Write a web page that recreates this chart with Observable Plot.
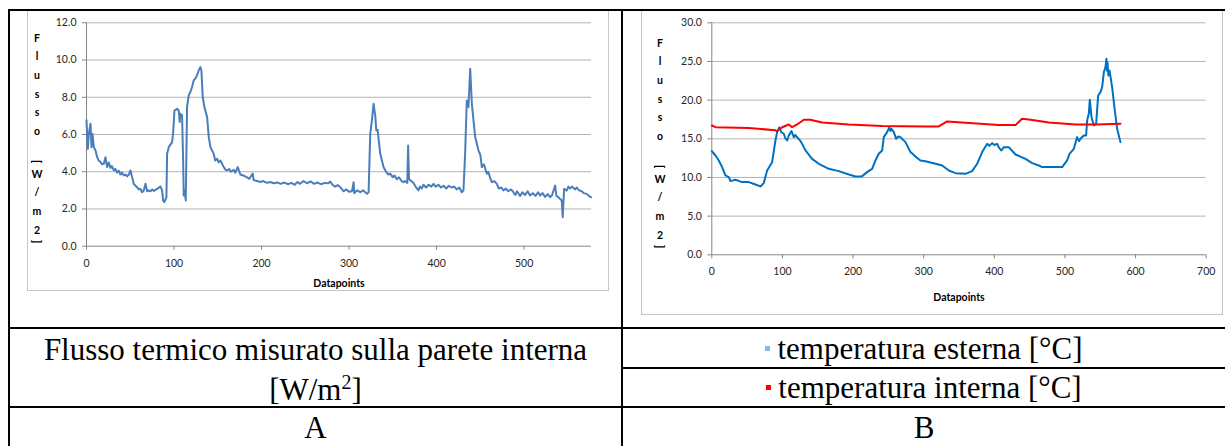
<!DOCTYPE html>
<html><head><meta charset="utf-8">
<script src="https://cdn.jsdelivr.net/npm/d3@7"></script>
<script src="https://cdn.jsdelivr.net/npm/@observablehq/plot@0.6"></script>
<style>
html,body{margin:0;padding:0;background:#fff;}
#root{position:relative;width:1225px;height:446px;overflow:hidden;background:#fff;}
.ln{position:absolute;background:#000;z-index:5;}
.box{position:absolute;border:1px solid #c6c6c6;box-sizing:border-box;}
.svgwrap{position:absolute;}
.stack{position:absolute;display:flex;flex-direction:column;align-items:center;font:bold 10.5px Lato,"Open Sans",sans-serif;color:#000;width:14px;}
.stack span{display:block;height:18.7px;line-height:18.7px;text-align:center;}
.stack span.br{height:5.3px;line-height:5.3px;transform:rotate(90deg);}
.cell{position:absolute;font-family:"Liberation Serif","Times New Roman",serif;color:#000;text-align:center;white-space:nowrap;}
.mk{display:inline-block;width:5px;height:5px;margin-right:7px;vertical-align:middle;position:relative;top:-3px;}
</style></head>
<body><div id="root"></div>
<script>
// ---------- data ----------
const fluxIndex = [0,1.5,2.7,4.6,5.7,6.8,8.4,10.3,12.2,14,16,18,19.8,21.7,23.6,25.5,27.4,29,31.2,33,35,37,38.8,40.5,42.6,44.5,46.4,48.5,50.2,52.1,54,56,57.8,59.7,61.6,63.5,65.4,67.4,69.3,71,73.1,75,77,80.7,84.5,86.4,87.5,89,91.3,92.1,94,97.8,98.9,100.5,103.5,105.4,106.5,107.3,109.2,110.4,111.1,112.3,113.4,114.9,116.8,118.7,120.6,122.5,124.4,126.3,128.2,130.1,131.3,132.8,134.7,137.8,139.7,141.6,145.4,147,149.2,151,153,156.8,159,160.6,163,165,168.2,170,172.8,175.8,179,183.4,186,189.9,191,195,198.6,202,206.2,210,214,218,222,226,230,234,238,241,244,248,252,256,260,264,268,272,276,278.5,281,284,287,290,293.8,297,300,303.3,305.2,306,309,312.8,316,320.4,322.3,324.2,326.1,328,329.9,331.1,332.6,335.6,339.4,342.4,345,347,350,352,354.6,357,360,362.2,364,366.5,367.5,368.5,371,373.6,376,379.3,381,383,385,388,391,394,396.5,399,402,405,408,411,414,417,420,423,426,428.8,430.7,432.6,434.5,436.4,438.4,440.3,444.1,447.9,450,451.7,454,457.4,459,461,463.1,466,468.8,471,474,476.4,479,482,485,487.8,490,492,495.4,498,501,504,506.8,510,513,516,518.3,521,524,527,529.7,532,535.4,537,539.2,543,544.1,545.7,548.7,550.5,552.5,555,558,560.2,563,565.9,568,571.5,574,576.5];
const fluxValue = [6.76,5.23,6.04,6.58,5.32,6.04,5.32,5.14,4.78,4.6,4.52,4.4,4.43,4.78,4.25,4.5,4.2,4.3,4.07,4.15,3.95,4.05,3.85,3.95,3.8,3.85,3.75,3.85,4.07,3.71,3.35,3.25,3.17,3.05,3.08,2.9,2.99,3.35,2.95,3.0,2.95,3.05,2.97,3.08,3.21,2.99,2.46,2.37,2.63,4.96,5.32,5.59,6.04,7.29,7.38,7.29,6.67,7.11,7.03,4.61,2.72,2.99,2.46,7.47,8.1,8.28,8.55,8.91,9.0,9.18,9.44,9.62,9.44,8.01,7.47,6.94,5.86,5.32,4.96,4.6,4.7,4.5,4.6,4.25,4.1,4.07,4.15,4.0,4.1,3.95,4.25,3.85,3.8,3.7,3.62,3.9,3.55,3.5,3.45,3.5,3.4,3.45,3.38,3.42,3.35,3.42,3.33,3.4,3.3,3.45,3.35,3.5,3.38,3.48,3.35,3.42,3.33,3.4,3.38,3.47,3.3,3.2,3.28,3.17,2.95,3.05,2.92,2.95,3.44,2.85,3.0,2.9,3.0,2.81,2.9,6.04,6.76,7.65,7.03,6.22,6.25,4.96,4.25,3.98,3.85,3.9,3.7,3.8,3.6,3.7,3.5,3.44,3.5,3.4,5.41,3.6,3.5,3.4,3.2,3.0,3.2,3.1,3.3,3.15,3.3,3.2,3.35,3.2,3.3,3.15,3.25,3.1,3.25,3.15,3.2,3.05,3.15,2.9,2.99,4.96,7.83,7.47,9.53,7.65,5.86,5.14,4.9,4.25,4.4,3.89,4.0,3.7,3.44,3.5,3.35,3.1,3.15,2.99,3.1,2.95,3.05,2.9,2.75,2.95,2.7,2.9,2.75,2.95,2.72,2.85,2.7,2.9,2.72,2.85,2.65,2.8,2.63,2.75,3.26,2.7,2.63,2.46,1.56,3.08,2.99,3.2,3.1,3.2,3.05,3.15,3.0,2.95,2.85,2.81,2.7,2.63];

const extIndex = [0,5.2,9.9,14.6,19.3,24.1,26.4,33.5,42.9,52.4,61.8,68.9,73.6,78.3,85.4,90.1,92.5,95.8,98.2,101.9,104,106.7,109,112.8,116.1,118,120.8,124,127.9,132.6,142,151.5,165.6,179.8,194,203.4,212.8,219.9,227,231.7,236.4,241.2,243.5,248.2,251.5,253,254.4,257.7,261,264,267.1,274.2,281.3,288.3,295.4,302.5,316.7,326.2,335.6,345,359.2,368.6,375.7,382.8,389.9,393,397,400,404,407,410.1,413.5,420.5,430,444.1,453.6,463,467.8,477.2,496.1,503.1,506.4,512.6,517.3,520,522,526.7,530,531.4,533.8,535.2,537.6,540.9,544.2,547,550.3,552.7,555.1,557.4,558.8,559.6,560.2,561.5,563.1,566.8,570.6,573.9,578.6];
const extValue = [13.4,12.84,12.2,11.34,10.26,10.04,9.53,9.7,9.4,9.4,9.09,8.84,9.27,10.9,11.98,14.78,15.86,16.5,15.86,15.65,15.1,14.78,15.43,16.0,15.2,15.5,15.2,14.9,14.35,13.5,12.4,11.77,11.12,10.82,10.39,10.13,10.17,10.69,11.12,12.2,13.06,13.49,15.22,15.86,16.5,16.0,16.3,15.86,15.0,15.3,15.22,14.57,13.28,12.7,12.2,12.1,11.77,11.55,10.9,10.56,10.47,10.82,11.77,13.28,14.35,14.1,14.44,14.2,14.35,13.8,13.49,13.92,13.92,12.97,12.41,11.85,11.55,11.34,11.34,11.34,12.2,13.06,13.7,15.22,14.7,15.0,15.43,15.43,17.37,18.23,20.04,17.8,16.72,16.94,20.6,21.03,21.68,23.62,24.27,25.34,23.8,24.9,23.19,23.84,21.68,18.66,16.29,14.57];

const intIndex = [0,5.2,52.4,90.1,92.5,99.6,109,113.7,120.8,130.3,139.7,156.2,194,241.2,302.5,321.4,333.2,359.2,406.4,430,439.4,448.9,477.2,515,543.2,578.6];
const intValue = [16.72,16.5,16.4,16.1,16.0,16.5,16.85,16.5,16.85,17.46,17.46,17.1,16.85,16.64,16.6,16.6,17.24,17.07,16.77,16.77,17.59,17.5,17.1,16.85,16.85,16.94];

const xTicksA = [0,100,200,300,400,500];
const yTicksA = [0,2,4,6,8,10,12];
const xTicksB = [0,100,200,300,400,500,600,700];
const yTicksB = [0,5,10,15,20,25,30];
const axisTitleChars = ["F","l","u","s","s","o"," ","[","W","/","m","2","]"];
const xLabel = "Datapoints";
const captionA = ["Flusso termico misurato sulla parete interna", "[W/m", "2", "]"];
const legendB = [{label:"temperatura esterna [°C]", color:"#8db4e2"}, {label:"temperatura interna [°C]", color:"#ff0000"}];
const letters = ["A","B"];

// ---------- helpers ----------
const root = document.getElementById("root");
function add(cls, css, html){ const d=document.createElement("div"); d.className=cls; Object.assign(d.style, css); if(html!==undefined) d.innerHTML=html; root.appendChild(d); return d; }

const fluxData = fluxIndex.map((x,i)=>({x, y: fluxValue[i]}));
const extData = extIndex.map((x,i)=>({x, y: extValue[i]}));
const intData = intIndex.map((x,i)=>({x, y: intValue[i]}));

const baseStyle = {fontFamily:"Lato, 'Open Sans', sans-serif", fontSize:"10.5px", color:"#262626", background:"transparent", overflow:"visible"};

function chart({width,height,mL,mR,mT,mB,xDomain,xTicks,yDomain,yTicks,lines,labelDy}){
  return Plot.plot({
    width, height, marginLeft:mL, marginRight:mR, marginTop:mT, marginBottom:mB,
    style: baseStyle,
    x:{domain:xDomain}, y:{domain:yDomain},
    marks:[
      Plot.ruleY(yTicks.filter(d=>d>0), {stroke:"#b4b4b4", strokeWidth:1}),
      Plot.axisY(yTicks, {tickSize:4, tickPadding:6, stroke:"#868686", fill:"#262626", tickFormat:d=>d.toFixed(1), label:null}),
      Plot.axisX(xTicks, {tickSize:4, tickPadding:9, stroke:"#868686", fill:"#262626", tickFormat:d=>String(d), label:null}),
      Plot.ruleX([xDomain[0]], {stroke:"#868686"}),
      Plot.ruleY([yDomain[0]], {stroke:"#868686"}),
      ...lines.map(l=>Plot.line(l.data, {x:"x", y:"y", stroke:l.color, strokeWidth:2, strokeLinejoin:"round"})),
      Plot.text([xLabel], {frameAnchor:"bottom", dy:labelDy, lineAnchor:"middle", fontWeight:"bold", fill:"#000", fontSize:10.5})
    ]
  });
}

// chart boxes
add("box", {left:"27px", top:"10px", width:"582px", height:"281px"});
add("box", {left:"641px", top:"10px", width:"582px", height:"305px"});

const A = chart({width:582,height:281,mL:59,mR:18,mT:12.3,mB:45.3,xDomain:[0,577],xTicks:xTicksA,yDomain:[0,12],yTicks:yTicksA,lines:[{data:fluxData,color:"#4a7ebb"}],labelDy:37.5});
const wa = add("svgwrap", {left:"27px", top:"10px"}); wa.appendChild(A);
const B = chart({width:582,height:305,mL:70.3,mR:17.3,mT:12.3,mB:60.7,xDomain:[0,700],xTicks:xTicksB,yDomain:[0,30],yTicks:yTicksB,lines:[{data:extData,color:"#0070c0"},{data:intData,color:"#ff0000"}],labelDy:42.7});
const wb = add("svgwrap", {left:"641px", top:"10px"}); wb.appendChild(B);

// stacked axis titles
function stack(left, top){
  const s = add("stack", {left:left+"px", top:top+"px"});
  axisTitleChars.forEach(c=>{ const sp=document.createElement("span"); if(c==="["||c==="]") sp.className="br"; sp.textContent=c===" "?"\u00a0":c; s.appendChild(sp); });
}
stack(30, 28.6);
stack(653, 33.6);

// caption cells
add("cell", {left:"10px", width:"611px", top:"331px", height:"36px", fontSize:"31px", lineHeight:"38px"}, captionA[0]);
add("cell", {left:"10px", width:"611px", top:"373px", height:"33px", fontSize:"31px", lineHeight:"33px"}, captionA[1]+"<sup style='font-size:20px;line-height:0'>"+captionA[2]+"</sup>"+captionA[3]);
legendB.forEach((l,i)=>{
  add("cell", {left:"623px", width:"602px", top:(331+i*39)+"px", height:"36px", fontSize:"31px", lineHeight:"36px"}, "<span class='mk' style='background:"+l.color+"'></span>"+l.label);
});
add("cell", {left:"10px", width:"611px", top:"410px", height:"36px", fontSize:"31px", lineHeight:"36px"}, letters[0]);
add("cell", {left:"623px", width:"602px", top:"410px", height:"36px", fontSize:"31px", lineHeight:"36px"}, letters[1]);

// table lines (on top)
add("ln", {left:"8px", top:"9px", width:"1217px", height:"2px"});
add("ln", {left:"8px", top:"9px", width:"2px", height:"437px"});
add("ln", {left:"621px", top:"9px", width:"2px", height:"437px"});
add("ln", {left:"8px", top:"327px", width:"1217px", height:"2px"});
add("ln", {left:"621px", top:"367px", width:"604px", height:"2px"});
add("ln", {left:"8px", top:"406px", width:"1217px", height:"2px"});
</script></body></html>
